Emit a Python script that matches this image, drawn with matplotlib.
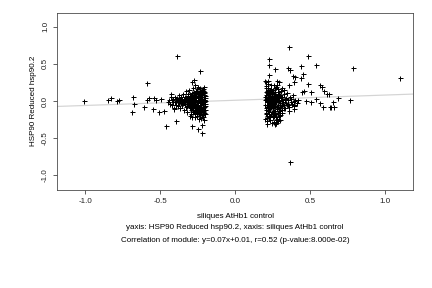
import matplotlib
matplotlib.use("Agg")
from matplotlib import pyplot as plt

# dense cluster left of zero
left_x = [-0.448, -0.44, -0.435, -0.43, -0.425, -0.42, -0.415, -0.41, -0.405, -0.40,
          -0.398, -0.395, -0.39, -0.385, -0.38, -0.378, -0.375, -0.37, -0.366, -0.362,
          -0.36, -0.355, -0.352, -0.35, -0.346, -0.342, -0.34, -0.337, -0.335, -0.332,
          -0.33, -0.328, -0.325, -0.322, -0.32, -0.318, -0.315, -0.312, -0.31, -0.308,
          -0.305, -0.302, -0.30, -0.298, -0.296, -0.294, -0.292, -0.29, -0.288, -0.286,
          -0.284, -0.282, -0.28, -0.278, -0.276, -0.274, -0.272, -0.27, -0.268, -0.266,
          -0.264, -0.262, -0.26, -0.258, -0.256, -0.254, -0.252, -0.25, -0.248, -0.246,
          -0.244, -0.242, -0.24, -0.238, -0.236, -0.234, -0.232, -0.23, -0.228, -0.226,
          -0.224, -0.222, -0.22, -0.218, -0.216, -0.214, -0.212, -0.21, -0.208, -0.206,
          -0.204, -0.202, -0.20,
          -0.31, -0.29, -0.27, -0.25, -0.23, -0.21, -0.28, -0.26, -0.24, -0.22,
          -0.30, -0.28, -0.26, -0.24, -0.22, -0.205, -0.215, -0.235, -0.255, -0.275,
          -0.295, -0.315, -0.335, -0.355, -0.375, -0.395, -0.415, -0.205, -0.21, -0.225,
          -0.245, -0.265, -0.30,
          -0.203, -0.207, -0.211, -0.217, -0.221, -0.227, -0.231, -0.237, -0.241, -0.247,
          -0.251, -0.257, -0.261, -0.267, -0.271, -0.277, -0.281, -0.287, -0.291, -0.297,
          -0.201, -0.209, -0.213, -0.219, -0.223, -0.229, -0.233, -0.239, -0.243, -0.249,
          -0.253, -0.259, -0.263, -0.269, -0.273, -0.279, -0.283, -0.289, -0.293, -0.299,
          -0.305, -0.311, -0.317, -0.323, -0.329, -0.341, -0.347, -0.359, -0.368, -0.382,
          -0.203, -0.212, -0.226, -0.238, -0.252, -0.266, -0.202, -0.218, -0.232, -0.247]
left_y = [-0.01, 0.02, -0.04, 0.05, -0.06, 0.01, 0.03, -0.09, 0.06, -0.02,
          0.0, -0.05, 0.04, -0.07, 0.02, 0.08, -0.03, 0.01, -0.10, 0.05,
          -0.01, 0.03, -0.06, 0.10, -0.02, 0.0, -0.12, 0.06, -0.04, 0.02,
          0.13, -0.08, 0.0, 0.04, -0.15, 0.09, -0.03, 0.01, -0.06, 0.15,
          -0.10, 0.05, -0.01, 0.07, -0.18, 0.02, -0.05, 0.11, -0.02, -0.22,
          0.03, -0.08, 0.18, 0.0, -0.13, 0.06, -0.04, 0.21, -0.17, 0.01,
          0.09, -0.07, 0.04, -0.11, 0.14, -0.02, -0.20, 0.07, -0.05, 0.02,
          0.12, -0.09, -0.24, 0.05, -0.01, 0.17, -0.14, 0.03, -0.06, 0.10,
          -0.03, -0.19, 0.06, 0.0, -0.10, 0.13, -0.04, 0.08, -0.16, 0.02,
          -0.07, 0.04, -0.12,
          0.03, -0.03, 0.0, -0.03, 0.0, -0.02, 0.05, -0.06, 0.08, 0.03,
          0.10, -0.15, 0.13, -0.15, 0.15, 0.11, -0.22, -0.19, 0.16, 0.12,
          -0.12, 0.07, -0.02, -0.04, 0.04, 0.03, -0.02, -0.25, 0.19, -0.23,
          0.19, -0.21, -0.20,
          0.07, -0.08, 0.01, -0.13, 0.09, -0.02, 0.05, -0.11, 0.02, -0.07,
          0.10, -0.01, -0.14, 0.04, -0.09, 0.08, -0.03, 0.06, -0.10, 0.03,
          -0.04, 0.12, -0.15, 0.03, -0.12, 0.14, -0.08, 0.01, -0.17, 0.09,
          -0.06, 0.05, -0.12, 0.11, -0.01, -0.10, 0.07, -0.07, 0.02, -0.04,
          0.04, -0.05, 0.02, -0.07, 0.05, 0.03, -0.03, 0.02, 0.0, -0.01,
          -0.18, 0.16, -0.15, 0.12, -0.16, 0.09, 0.0, -0.01, 0.01, -0.12]

# dense cluster right of zero
right_x = [0.20, 0.202, 0.204, 0.206, 0.208, 0.21, 0.212, 0.214, 0.216, 0.218,
           0.22, 0.222, 0.224, 0.226, 0.228, 0.23, 0.232, 0.234, 0.236, 0.238,
           0.24, 0.242, 0.244, 0.246, 0.248, 0.25, 0.252, 0.254, 0.256, 0.258,
           0.26, 0.262, 0.264, 0.266, 0.268, 0.27, 0.272, 0.274, 0.276, 0.278,
           0.28, 0.282, 0.284, 0.286, 0.288, 0.29, 0.292, 0.294, 0.296, 0.298,
           0.30, 0.302, 0.305, 0.308, 0.31, 0.313, 0.316, 0.32, 0.323, 0.326,
           0.33, 0.334, 0.338, 0.342, 0.346, 0.35, 0.355, 0.36, 0.365, 0.37,
           0.375, 0.38, 0.385, 0.39, 0.395, 0.40, 0.41, 0.42,
           0.205, 0.205, 0.21, 0.215, 0.22, 0.225, 0.23, 0.235, 0.24, 0.245,
           0.25, 0.255, 0.26, 0.265, 0.27, 0.275, 0.28, 0.285, 0.29, 0.295,
           0.30, 0.30, 0.285, 0.27, 0.215, 0.22, 0.26, 0.28, 0.225, 0.245,
           0.265, 0.315, 0.325, 0.31, 0.205,
           0.201, 0.203, 0.207, 0.209, 0.211, 0.213, 0.217, 0.219, 0.221, 0.223,
           0.227, 0.229, 0.231, 0.233, 0.237, 0.239, 0.241, 0.243, 0.247, 0.249,
           0.251, 0.253, 0.257, 0.259, 0.261, 0.263, 0.267, 0.269, 0.271, 0.273,
           0.201, 0.206, 0.212, 0.218, 0.224, 0.232, 0.238, 0.246, 0.254, 0.262,
           0.277, 0.283, 0.289, 0.297, 0.304, 0.312, 0.318, 0.328, 0.336, 0.348]
right_y = [0.01, -0.05, 0.08, -0.12, 0.03, -0.02, 0.14, -0.20, 0.05, -0.08,
           0.0, 0.18, -0.15, 0.06, -0.04, 0.11, -0.26, 0.02, -0.10, 0.21,
           -0.01, -0.18, 0.09, -0.06, 0.04, -0.22, 0.15, -0.03, 0.0, -0.13,
           0.07, -0.28, 0.12, -0.07, 0.03, -0.17, 0.19, -0.02, 0.06, -0.11,
           0.01, -0.24, 0.10, -0.05, 0.16, -0.14, 0.04, -0.09, 0.0, -0.19,
           0.08, -0.03, 0.13, -0.07, 0.02, -0.12, 0.05, -0.02, 0.09, -0.06,
           0.01, -0.10, 0.04, -0.03, 0.11, -0.05, 0.02, -0.08, 0.06, -0.01,
           0.03, -0.04, 0.08, 0.0, -0.06, 0.02, -0.03, 0.01,
           -0.16, 0.17, -0.27, 0.11, -0.09, 0.13, -0.20, 0.0, 0.16, -0.30,
           0.05, -0.16, -0.04, 0.17, 0.08, -0.25, -0.08, 0.02, -0.20, 0.12,
           -0.12, -0.26, -0.27, -0.29, -0.31, 0.23, 0.22, 0.21, -0.03, 0.03,
           -0.01, -0.16, 0.15, 0.18, 0.25,
           0.06, -0.09, 0.12, -0.17, 0.02, -0.06, 0.09, -0.13, 0.04, -0.22,
           0.07, -0.11, 0.01, -0.04, 0.13, -0.08, 0.05, -0.15, 0.10, -0.02,
           -0.10, 0.06, -0.19, 0.03, -0.07, 0.10, -0.14, 0.01, -0.21, 0.05,
           -0.24, 0.20, -0.23, 0.08, -0.18, 0.14, -0.06, 0.11, -0.10, -0.20,
           0.04, -0.16, 0.07, -0.08, 0.05, -0.05, 0.01, -0.09, 0.03, -0.04]

# scattered points away from the clusters
sparse_x = [-1.008, -0.85, -0.83, -0.79, -0.774, -0.68, -0.674, -0.687, -0.59, -0.607,
            -0.59, -0.573, -0.544, -0.528, -0.546, -0.506, -0.495, -0.473, -0.46, -0.426,
            -0.39, -0.393, -0.406, -0.232, -0.272, -0.286, -0.286, -0.245, -0.219, -0.219,
            0.357, 0.229, 0.229, 0.263, 0.484, 0.537, 0.437, 0.35, 0.363, 0.223,
            0.383, 0.397, 0.45, 0.437, 0.20, 0.219, 0.28, 0.294, 0.39, 0.484,
            0.357, 0.46, 0.446, 0.504, 0.57, 0.58, 0.595, 0.613, 0.624, 0.47,
            0.504, 0.537, 0.564, 0.587, 0.651, 0.642, 0.662, 0.363, 0.785, 1.104,
            0.77, 0.684, 0.635, 0.357, 0.39, 0.39, 0.267, 0.272, 0.278, 0.28]
sparse_y = [0.0, 0.02, 0.035, 0.0, 0.02, 0.05, -0.04, -0.15, 0.24, -0.08,
            0.02, 0.035, 0.045, 0.01, -0.11, -0.15, 0.027, -0.135, -0.34, 0.09,
            0.61, -0.27, -0.11, 0.40, 0.28, 0.25, -0.34, -0.38, -0.32, -0.435,
            0.73, 0.566, 0.485, 0.427, 0.606, 0.485, 0.47, 0.44, 0.42, 0.35,
            0.337, 0.32, 0.36, 0.305, 0.27, 0.27, 0.27, 0.26, 0.25, 0.23,
            0.21, 0.14, 0.125, 0.117, 0.215, 0.185, 0.135, 0.09, 0.094, 0.0,
            -0.02, 0.027, -0.03, -0.077, -0.01, -0.077, -0.077, -0.818, 0.445, 0.31,
            0.013, 0.036, -0.08, -0.135, -0.11, -0.067, -0.31, -0.29, -0.26, -0.25]

slope = 0.07
intercept = 0.01
x_ticks = [-1.0, -0.5, 0.0, 0.5, 1.0]
y_ticks = [-1.0, -0.5, 0.0, 0.5, 1.0]

plt.rcParams['font.family'] = ['Liberation Sans', 'DejaVu Sans']
plt.rcParams['font.size'] = 8

fig = plt.figure(figsize=(6, 4), dpi=72)
ax = fig.add_axes([0.132, 0.340, 0.823, 0.616])

ax.axline((0, intercept), slope=slope, color='#d4d4d4', linewidth=1.2, zorder=1)
for xs, ys in ((left_x, left_y), (right_x, right_y), (sparse_x, sparse_y)):
    ax.plot(xs, ys, linestyle='none', marker='+', color='black',
            markersize=5, markeredgewidth=1.0, zorder=2)

ax.set_xlim(-1.19, 1.185)
ax.set_ylim(-1.2, 1.19)
ax.set_xticks(x_ticks)
ax.set_xticklabels(['%.1f' % t for t in x_ticks])
ax.set_yticks(y_ticks)
ax.set_yticklabels(['%.1f' % t for t in y_ticks], rotation=90, va='center')
ax.tick_params(direction='out', length=4, width=0.7, pad=4, colors='#222222')
for spine in ax.spines.values():
    spine.set_color('#444444')
    spine.set_linewidth(0.8)

fig.text(0.078, 0.649, 'HSP90 Reduced hsp90.2', rotation=90,
         ha='center', va='center')
fig.text(0.544, 0.250, 'siliques AtHb1 control', ha='center', va='center')
fig.text(0.544, 0.209, 'yaxis: HSP90 Reduced hsp90.2, xaxis: siliques AtHb1 control',
         ha='center', va='center')
fig.text(0.544, 0.164,
         'Correlation of module: y=0.07x+0.01, r=0.52 (p-value:8.000e-02)',
         ha='center', va='center')

fig.savefig('out.png', dpi=72)
